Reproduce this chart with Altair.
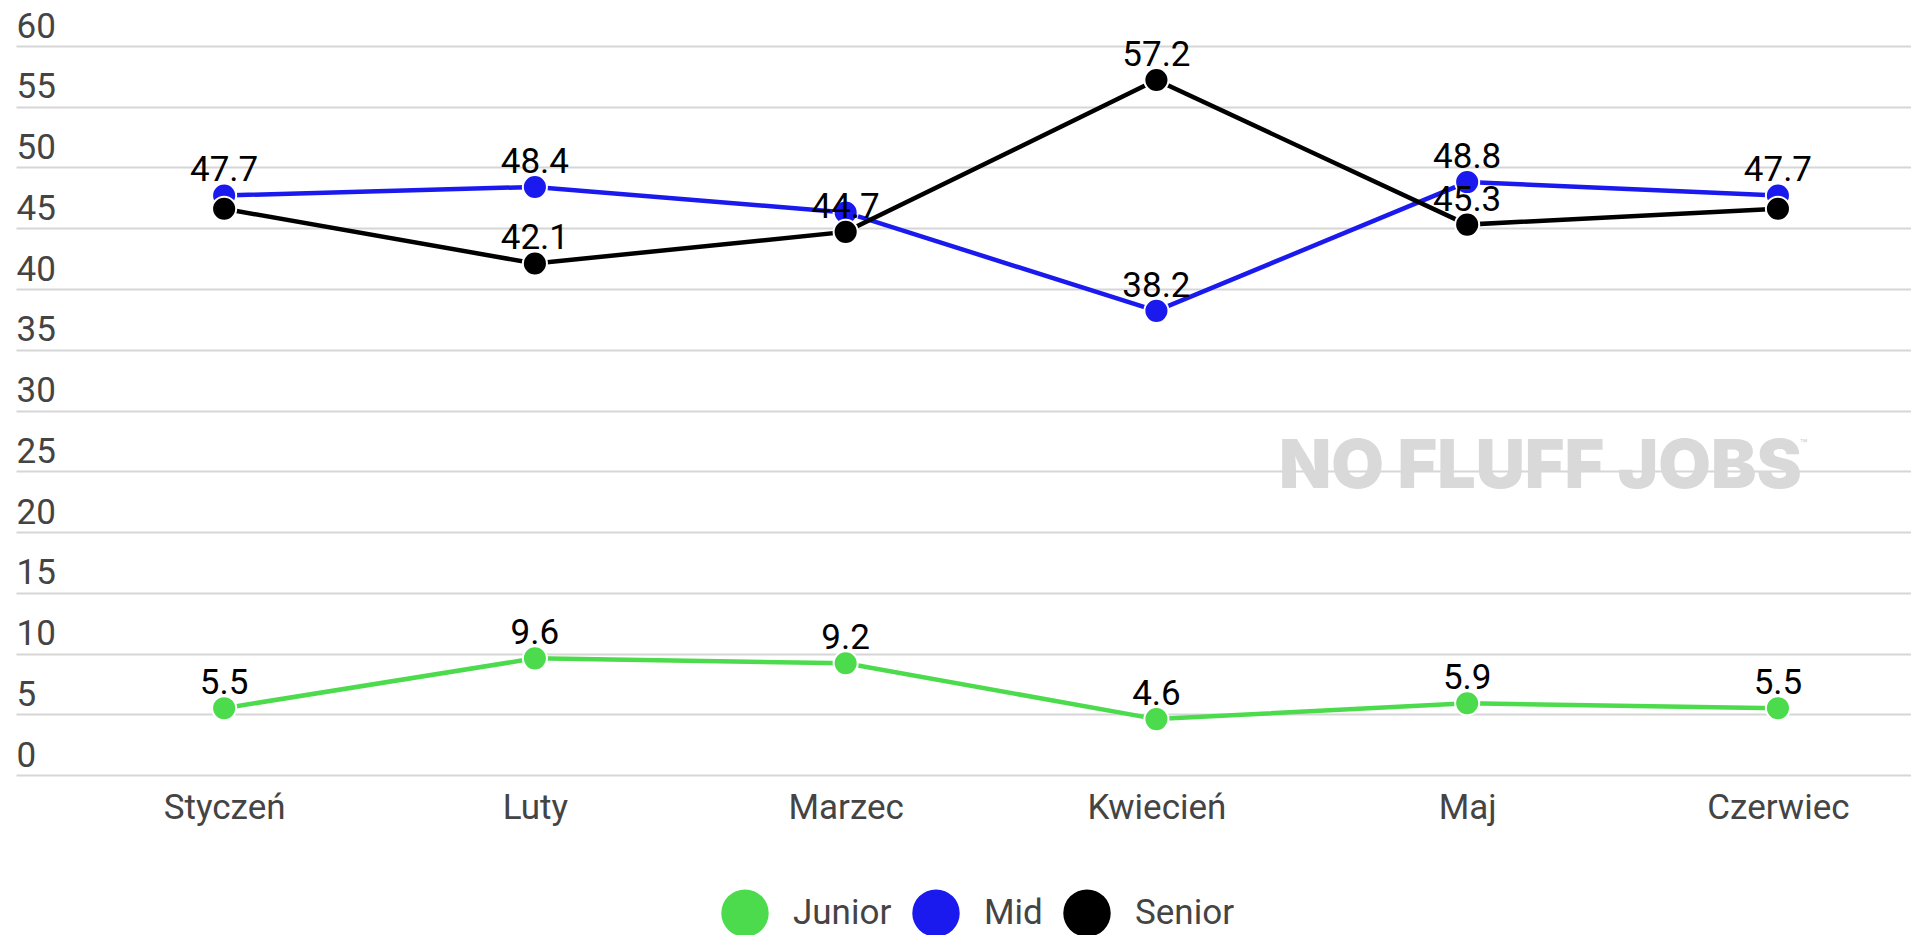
import altair as alt
import pandas as pd

# ---- data ----
months = ["Styczeń", "Luty", "Marzec", "Kwiecień", "Maj", "Czerwiec"]
series_names = ["Junior", "Mid", "Senior"]
junior = [5.5, 9.6, 9.2, 4.6, 5.9, 5.5]
mid = [47.7, 48.4, 46.3, 38.2, 48.8, 47.7]
senior = [46.6, 42.1, 44.7, 57.2, 45.3, 46.6]
series_colors = ["#4cdb4c", "#1a1aee", "#000000"]
y_ticks = [0, 5, 10, 15, 20, 25, 30, 35, 40, 45, 50, 55, 60]
# labels hidden in the reference because they overlap other labels
hidden_labels = [("Senior", "Styczeń"), ("Mid", "Marzec"), ("Senior", "Czerwiec")]
watermark_text = ["NO FLUFF JOBS"]

rows = []
for name, vals in zip(series_names, [junior, mid, senior]):
    for m, v in zip(months, vals):
        rows.append({"series": name, "month": m, "value": v})
df = pd.DataFrame(rows)
label_df = df[[(s, m) not in hidden_labels for s, m in zip(df["series"], df["month"])]]

FONT = "Roboto"
GREY = "#444444"
FS = 35

x_enc = alt.X(
    "month:N",
    sort=months,
    scale=alt.Scale(type="point", domain=months, padding=0.549, align=0.61),
    axis=alt.Axis(
        title=None, domain=False, ticks=False, tickSize=0, grid=False,
        labelFont=FONT, labelFontSize=FS, labelColor=GREY,
        labelPadding=43, labelBaseline="alphabetic", labelAngle=0,
    ),
)
y_enc = alt.Y(
    "value:Q",
    scale=alt.Scale(domain=[0, 60], nice=False, zero=True),
    axis=alt.Axis(
        title=None, values=y_ticks, domain=False, ticks=False, tickSize=0,
        grid=True, gridColor="#d6d6d6", gridWidth=2,
        labelAlign="left", labelBaseline="alphabetic", labelOffset=-9,
        labelPadding=0, labelOverlap=False,
        labelFont=FONT, labelFontSize=FS, labelColor=GREY,
    ),
)
color_enc = alt.Color(
    "series:N",
    scale=alt.Scale(domain=series_names, range=series_colors),
    legend=alt.Legend(
        title=None, orient="none", legendX=705, legendY=843,
        direction="horizontal", symbolType="circle", symbolSize=2250,
        symbolStrokeWidth=0,
        labelFont=FONT, labelFontSize=FS, labelColor=GREY,
        labelOffset=24, columnPadding=20,
    ),
)

base = alt.Chart(df)

lines = base.mark_line(strokeWidth=4.5).encode(x=x_enc, y=y_enc, color=color_enc)

points = base.mark_point(filled=True, size=580, stroke="white", strokeWidth=2, opacity=1).encode(
    x=x_enc, y=y_enc, color=color_enc
)

labels = alt.Chart(label_df).mark_text(
    font=FONT, fontSize=FS, color="#000000", baseline="alphabetic", dy=-14
).encode(x=x_enc, y=y_enc, text=alt.Text("value:Q", format=".1f"))

wm = alt.Chart(pd.DataFrame({"t": watermark_text})).mark_text(
    font="Inter", fontSize=68, fontWeight=900, color="#d9d9d9",
    align="left", baseline="middle",
).encode(text="t:N", x=alt.value(1263), y=alt.value(422))

tm = alt.Chart(pd.DataFrame({"t": ["™"]})).mark_text(
    font="Inter", fontSize=12, color="#d0d0d0", align="left", baseline="middle",
).encode(text="t:N", x=alt.value(1784), y=alt.value(398))

chart = alt.layer(wm, tm, lines, points, labels).properties(
    width=1895, height=729,
    padding={"left": 8, "right": 0, "top": 1, "bottom": 0},
    background="white",
).configure_view(stroke=None)

chart.save("out.html", embed_options={"renderer": "svg", "actions": False})
